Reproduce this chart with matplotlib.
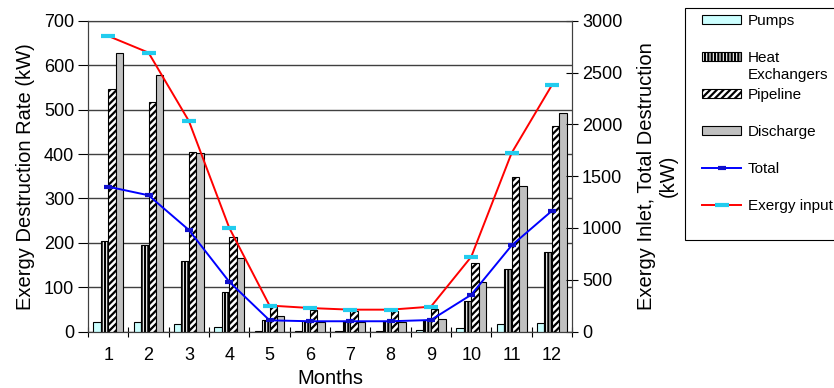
import numpy as np
import matplotlib
matplotlib.use("Agg")
import matplotlib.pyplot as plt
from matplotlib.patches import Patch, Rectangle
from matplotlib.lines import Line2D

# -------------------- DATA --------------------
months = [1, 2, 3, 4, 5, 6, 7, 8, 9, 10, 11, 12]
pumps = [22, 22, 16, 10, 2, 2, 2, 2, 3, 7, 17, 20]
heat_exchangers = [205, 194, 160, 89, 26, 23, 24, 24, 27, 68, 142, 180]
pipeline = [547, 518, 405, 214, 55, 48, 46, 46, 51, 154, 349, 464]
discharge = [627, 579, 403, 166, 35, 21, 22, 22, 28, 112, 327, 492]
total = [1399, 1316, 981, 481, 108, 99, 99, 99, 111, 355, 831, 1166]
exergy_input = [2855, 2694, 2034, 1003, 251, 227, 211, 211, 240, 722, 1724, 2381]

# -------------------- STYLE --------------------
plt.rcParams["font.family"] = ["Liberation Sans", "DejaVu Sans"]
plt.rcParams["hatch.linewidth"] = 1.6

fig = plt.figure(figsize=(8.34, 3.88), dpi=100)
ax = fig.add_axes([0.1055, 0.1456, 0.5805, 0.8004])

x = np.arange(len(months))
w = 0.185
offs = [-1.5 * w, -0.5 * w, 0.5 * w, 1.5 * w]

ax.bar(x + offs[0], pumps, w, color="#ccffff", edgecolor="black", linewidth=0.8, zorder=3)
ax.bar(x + offs[1], heat_exchangers, w, color="white", edgecolor="black", hatch="|||||",
       linewidth=0.8, zorder=3)
ax.bar(x + offs[2], pipeline, w, color="white", edgecolor="black", hatch="/////",
       linewidth=0.8, zorder=3)
ax.bar(x + offs[3], discharge, w, color="#c0c0c0", edgecolor="black", linewidth=0.8, zorder=3)

ax.set_xlim(-0.5, len(months) - 0.5)
ax.set_ylim(0, 700)
ax.set_yticks(range(0, 701, 100))
ax.set_xticks(x)
ax.set_xticklabels([str(m) for m in months])
ax.set_xticks(np.arange(-0.5, len(months), 1), minor=True)
ax.tick_params(axis="x", which="major", length=0, labelsize=13, pad=11)
ax.tick_params(axis="x", which="minor", direction="inout", length=7, width=0.8)
ax.tick_params(axis="y", direction="out", length=7, labelsize=13, pad=3)
ax.yaxis.grid(True, color="#404040", linewidth=1.0, zorder=0)
ax.set_axisbelow(True)
ax.set_ylabel("Exergy Destruction Rate (kW)", fontsize=14.5, labelpad=6)
ax.set_xlabel("Months", fontsize=14.5, labelpad=4)
for s in ax.spines.values():
    s.set_color("#404040")

# -------------------- RIGHT AXIS --------------------
ax2 = ax.twinx()
ax2.plot(x, exergy_input, color="red", linewidth=1.4, marker="_", markersize=10,
         markeredgewidth=3, markeredgecolor="#22ccee", zorder=5)
ax2.plot(x, total, color="blue", linewidth=1.4, marker="_", markersize=6,
         markeredgewidth=3, markeredgecolor="#1010cc", zorder=5)
ax2.set_ylim(0, 3000)
ax2.set_yticks(range(0, 3001, 500))
ax2.tick_params(axis="y", direction="inout", length=8, labelsize=13, pad=3)
ax2.set_ylabel("Exergy Inlet, Total Destruction\n(kW)", fontsize=14.5, linespacing=1.15,
               labelpad=11)
for s in ax2.spines.values():
    s.set_color("#404040")

# -------------------- LEGEND --------------------
handles = [
    Patch(facecolor="#ccffff", edgecolor="black", linewidth=0.8),
    Patch(facecolor="white", edgecolor="black", hatch="|||||", linewidth=0.8),
    Patch(facecolor="white", edgecolor="black", hatch="/////", linewidth=0.8),
    Patch(facecolor="#c0c0c0", edgecolor="black", linewidth=0.8),
    Line2D([], [], color="blue", linewidth=1.4, marker="_", markersize=6,
           markeredgewidth=3, markeredgecolor="#1010cc"),
    Line2D([], [], color="red", linewidth=1.4, marker="_", markersize=10,
           markeredgewidth=3, markeredgecolor="#22ccee"),
]
labels = ["Pumps", "Heat", "Pipeline", "Discharge", "Total", "Exergy input"]

# legend frame, runs off the right edge like the original
fig.patches.append(Rectangle((0.8213, 0.3814), 0.3, 0.598, transform=fig.transFigure,
                             facecolor="white", edgecolor="black", linewidth=0.8, zorder=1))

leg = fig.legend(handles, labels, loc="upper left", bbox_to_anchor=(0.8276, 0.995),
                 fontsize=11, frameon=False,
                 handlelength=2.5, handleheight=0.5, labelspacing=1.5,
                 borderpad=0.3, handletextpad=0.45)
leg.set_zorder(3)

# second line of the "Heat Exchangers" label, wrapped below "Heat"
fig.canvas.draw()
tb = leg.get_texts()[1].get_window_extent()
fig.text(tb.x0 / fig.dpi / fig.get_figwidth(), (tb.y0 - 3) / fig.dpi / fig.get_figheight(),
         "Exchangers", fontsize=11, ha="left", va="top", zorder=4)

fig.savefig("out.png", dpi=100)
